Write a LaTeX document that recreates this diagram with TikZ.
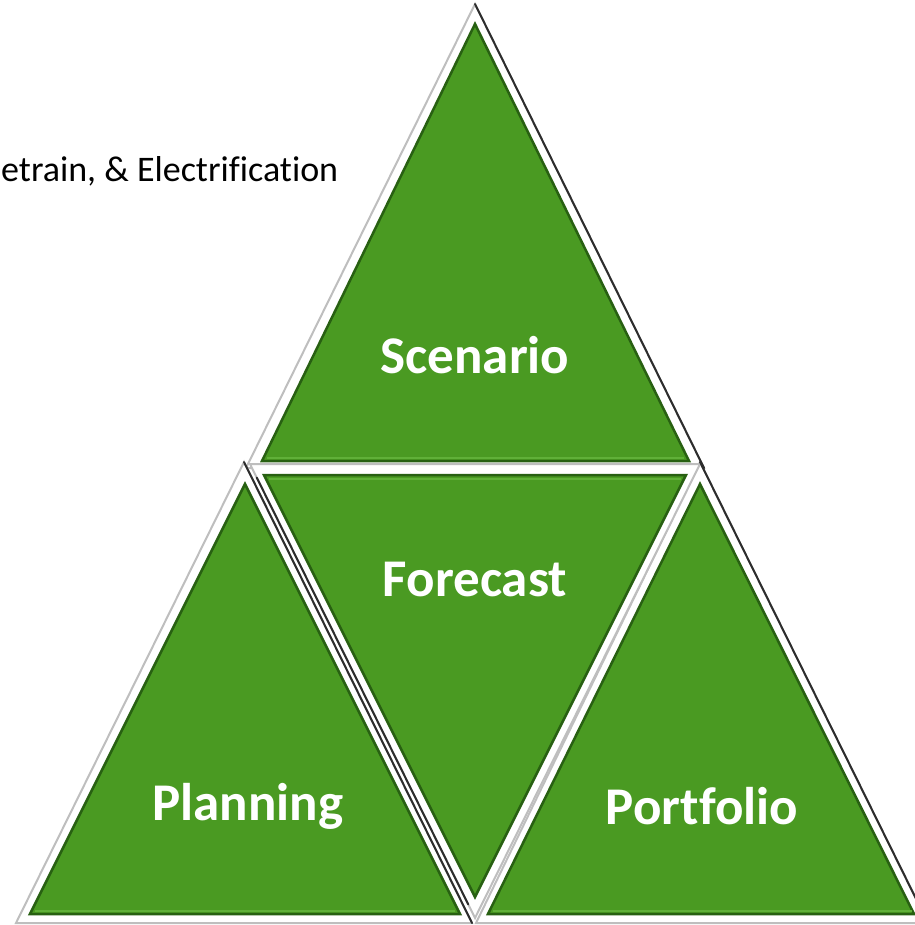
\documentclass[tikz,border=0pt]{standalone}
\usepackage{fontspec}
\setmainfont{Carlito}[Ligatures={NoCommon}]
\usepackage{tikz}
\usetikzlibrary{positioning,calc}
\usepackage{xcolor}
\definecolor{dfgreen}{RGB}{74,154,34}
\definecolor{dfdarkgreen}{RGB}{40,96,18}
\definecolor{dflightgreen}{RGB}{96,176,56}
\definecolor{dfgrey}{RGB}{190,190,190}
\definecolor{dfdark}{RGB}{45,45,45}
\tikzstyle{frame} = [fill=white, draw=dfgrey, line width=2pt, line join=miter]
\tikzstyle{darkedge} = [draw=dfdark, line width=2pt, line cap=round]
\tikzstyle{leaf} = [fill=dfgreen, draw=dfdarkgreen, line width=2.5pt, line join=miter]
\tikzstyle{lightedge} = [draw=dflightgreen, line width=2pt]
\tikzstyle{label} = [text=white, font=\fontsize{53}{60}\selectfont\bfseries]

\begin{document}
\begin{tikzpicture}[x=1pt, y=-1pt]
\useasboundingbox (0,0) rectangle (914,925);

% top triangle
\coordinate (t1) at (475,4);   \coordinate (t2) at (246,468); \coordinate (t3) at (704,468);
\coordinate (ti1) at (475,24); \coordinate (ti2) at (262,461); \coordinate (ti3) at (689,461);
% lower left triangle
\coordinate (l1) at (244,462); \coordinate (l2) at (16,923);  \coordinate (l3) at (472,923);
\coordinate (li1) at (245,484); \coordinate (li2) at (30,914); \coordinate (li3) at (460,914);
% middle (upside down) triangle
\coordinate (m1) at (250,464); \coordinate (m2) at (700,464); \coordinate (m3) at (475,918);
\coordinate (mi1) at (264,475); \coordinate (mi2) at (686,475); \coordinate (mi3) at (475,897);
% lower right triangle
\coordinate (r1) at (700,462); \coordinate (r2) at (476,923); \coordinate (r3) at (928,923);
\coordinate (ri1) at (700,484); \coordinate (ri2) at (488,914); \coordinate (ri3) at (914,914);

% bevel frames
\draw[frame] (t1) -- (t2) -- (t3) -- cycle;
\draw[frame] (l1) -- (l2) -- (l3) -- cycle;
\draw[frame] (r1) -- (r2) -- (r3) -- cycle;
\draw[frame] (m1) -- (m2) -- (m3) -- cycle;
\draw[darkedge] (t1) -- (t3);
\draw[darkedge] (l1) -- (l3);
\draw[darkedge] (r1) -- (r3);
\draw[darkedge] ($(m1)!0.03!(m3)$) -- ($(m1)!0.97!(m3)$);

% green faces
\draw[leaf] (ti1) -- (ti2) -- (ti3) -- cycle;
\draw[leaf] (li1) -- (li2) -- (li3) -- cycle;
\draw[leaf] (mi1) -- (mi2) -- (mi3) -- cycle;
\draw[leaf] (ri1) -- (ri2) -- (ri3) -- cycle;
\draw[lightedge] ($(ti2)+(5,-3)$) -- ($(ti3)+(-5,-3)$);
\draw[lightedge] ($(li2)+(5,-3)$) -- ($(li3)+(-5,-3)$);
\draw[lightedge] ($(ri2)+(5,-3)$) -- ($(ri3)+(-2,-3)$);
\draw[lightedge] ($(mi1)+(5,4)$) -- ($(mi2)+(-5,4)$);

% labels
\node[label] (scen) at (475,355) {Scenario};
\node[label] (fore) at (475,580) {Forecast};
\node[label] (plan) at (248,806) {Planning};
\node[label] (port) at (702,806) {Portfolio};
\node[anchor=west, inner sep=0pt, font=\fontsize{36}{40}\selectfont] (elec) at (1,171) {etrain, \& Electrification};
\end{tikzpicture}
\end{document}
